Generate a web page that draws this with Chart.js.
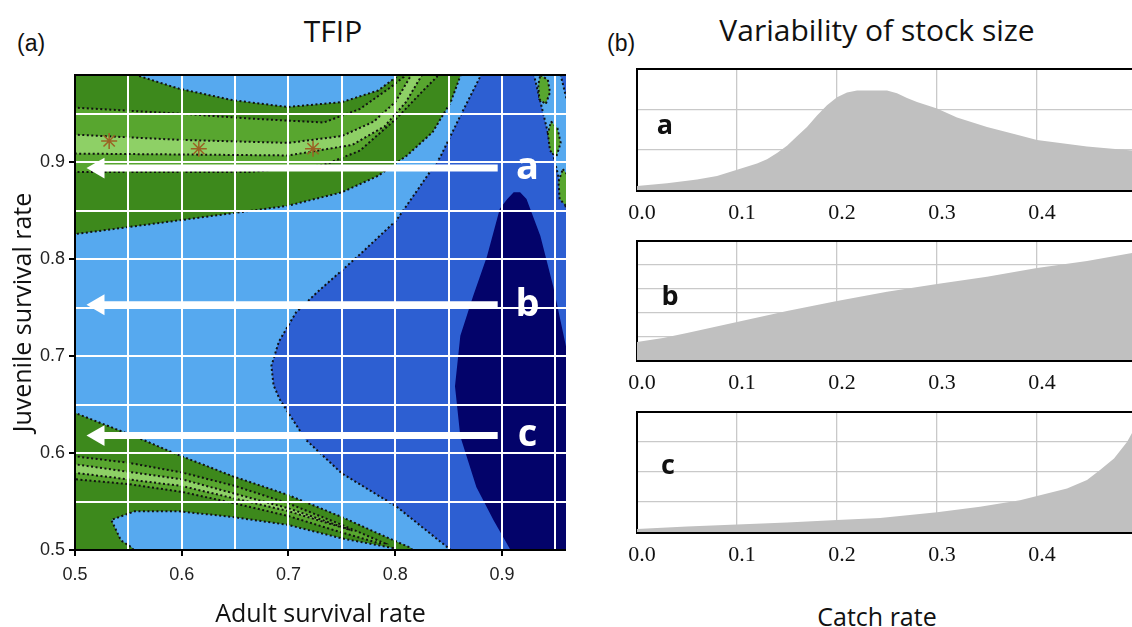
<!DOCTYPE html>
<html>
<head>
<meta charset="utf-8">
<script src="https://cdn.jsdelivr.net/npm/chart.js@4.4.1/dist/chart.umd.min.js"></script>
<style>
  body { margin: 0; width: 1132px; height: 627px; position: relative; overflow: hidden; background: #fff; }
  canvas { position: absolute; }
  .t { position: absolute; white-space: nowrap; color: #111; line-height: 1; }
  .c { transform: translateX(-50%); }
</style>
</head>
<body>
<div class="t" style="left:17px;top:30px;font:23px 'Liberation Sans';">(a)</div>
<div class="t c" style="left:333px;top:10px;font:30px 'Open Sans';">TFIP</div>
<div class="t" style="left:607px;top:30px;font:23px 'Liberation Sans';">(b)</div>
<div class="t c" style="left:877px;top:9px;font:30px 'Open Sans';">Variability of stock size</div>
<div class="t c" style="left:877px;top:599px;font:25px 'Open Sans';">Catch rate</div>

<canvas id="tfip" width="566" height="627" style="left:0;top:0"></canvas>
<canvas id="panelA" width="532" height="170" style="left:600px;top:60px"></canvas>
<canvas id="panelB" width="532" height="170" style="left:600px;top:232px"></canvas>
<canvas id="panelC" width="532" height="170" style="left:600px;top:403px"></canvas>

<script>
/* ── (a) TFIP contour map: outlines as [adult, juvenile] pairs ── */
const greenUpper = [[0.49,1.0],[0.56,1.0],[0.56,0.989],[0.597,0.976],[0.648,0.964],[0.699,0.957],[0.75,0.962],[0.784,0.974],[0.801,0.988],[0.803,1.0],[0.862,1.0],[0.861,0.989],[0.852,0.962],[0.835,0.931],[0.811,0.907],[0.784,0.886],[0.75,0.869],[0.699,0.855],[0.597,0.84],[0.501,0.826],[0.49,0.825]];
const midUpper = [[0.49,0.957],[0.6,0.95],[0.665,0.945],[0.733,0.941],[0.767,0.955],[0.794,0.976],[0.808,0.988],[0.81,1.0],[0.842,1.0],[0.839,0.988],[0.828,0.976],[0.801,0.945],[0.767,0.912],[0.733,0.897],[0.665,0.89],[0.6,0.89],[0.49,0.89]];
const lightUpper = [[0.49,0.929],[0.6,0.923],[0.7,0.92],[0.75,0.927],[0.78,0.942],[0.8,0.962],[0.815,0.99],[0.817,1.0],[0.828,1.0],[0.825,0.99],[0.81,0.962],[0.79,0.937],[0.76,0.918],[0.7,0.907],[0.6,0.908],[0.49,0.909]];
const greenLower = [[0.49,0.642],[0.501,0.641],[0.563,0.614],[0.597,0.598],[0.648,0.576],[0.699,0.557],[0.75,0.534],[0.784,0.517],[0.815,0.502],[0.82,0.49],[0.796,0.49],[0.798,0.502],[0.75,0.512],[0.699,0.526],[0.648,0.534],[0.597,0.54],[0.556,0.54],[0.534,0.531],[0.543,0.51],[0.554,0.502],[0.557,0.49],[0.49,0.49]];
const midLower = [[0.49,0.598],[0.55,0.59],[0.6,0.58],[0.65,0.566],[0.7,0.548],[0.75,0.526],[0.79,0.507],[0.785,0.507],[0.75,0.518],[0.7,0.535],[0.65,0.548],[0.6,0.56],[0.55,0.568],[0.49,0.574]];
const lightLower = [[0.49,0.59],[0.6,0.573],[0.7,0.543],[0.76,0.52],[0.7,0.54],[0.6,0.566],[0.49,0.581]];
const medBlue = [[0.885,1.0],[0.862,0.95],[0.842,0.905],[0.82,0.87],[0.801,0.84],[0.767,0.805],[0.726,0.765],[0.707,0.745],[0.691,0.715],[0.684,0.69],[0.686,0.67],[0.692,0.655],[0.716,0.614],[0.75,0.579],[0.801,0.545],[0.852,0.5],[0.861,0.49],[0.98,0.49],[0.98,1.0]];
const navyCore = [[0.905,0.862],[0.898,0.852],[0.886,0.803],[0.873,0.762],[0.861,0.721],[0.856,0.669],[0.861,0.617],[0.876,0.565],[0.892,0.531],[0.908,0.5],[0.913,0.49],[0.98,0.49],[0.98,0.70],[0.96,0.71],[0.948,0.772],[0.936,0.824],[0.923,0.862],[0.917,0.869],[0.911,0.869]];
const edgeStrip = [[0.928,1.0],[0.93,0.99],[0.965,0.83],[0.98,0.82],[0.98,0.93],[0.965,0.945],[0.955,0.99],[0.953,1.0]];
const blobs = [
  [[0.936,0.99],[0.943,0.985],[0.945,0.972],[0.941,0.96],[0.935,0.965],[0.934,0.98]],
  [[0.946,0.942],[0.952,0.935],[0.955,0.92],[0.951,0.906],[0.945,0.912],[0.943,0.93]],
  [[0.957,0.893],[0.963,0.885],[0.965,0.87],[0.96,0.855],[0.954,0.862],[0.953,0.88]]
];
const speckX = [0.532, 0.616, 0.723];
const speckY = [0.922, 0.914, 0.914];

// harvest paths a, b, c
const arrowNames = ['a', 'b', 'c'];
const arrowY = [0.894, 0.753, 0.618];
const arrowTail = 0.896;
const arrowHead = 0.522;
const arrowLabelX = 0.924;

/* ── (b) variability of stock size vs catch rate ── */
const rateA  = [0, 0.03, 0.06, 0.08, 0.10, 0.12, 0.13, 0.14, 0.15, 0.16, 0.17, 0.18, 0.19, 0.20, 0.21, 0.22, 0.25, 0.26, 0.27, 0.28, 0.30, 0.32, 0.35, 0.38, 0.40, 0.45, 0.495];
const stockA = [0.10, 0.17, 0.26, 0.35, 0.50, 0.66, 0.76, 0.92, 1.10, 1.33, 1.56, 1.85, 2.10, 2.30, 2.42, 2.47, 2.47, 2.40, 2.28, 2.18, 2.02, 1.80, 1.56, 1.37, 1.24, 1.08, 0.98];
const rateB  = [0, 0.026, 0.05, 0.10, 0.15, 0.20, 0.25, 0.30, 0.35, 0.40, 0.45, 0.495];
const stockB = [0.76, 0.92, 1.13, 1.60, 2.06, 2.48, 2.87, 3.19, 3.50, 3.87, 4.16, 4.50];
const rateC  = [0, 0.05, 0.10, 0.15, 0.20, 0.243, 0.30, 0.343, 0.383, 0.40, 0.43, 0.45, 0.463, 0.477, 0.49, 0.495];
const stockC = [0.10, 0.18, 0.25, 0.32, 0.40, 0.47, 0.66, 0.84, 1.06, 1.20, 1.45, 1.73, 2.07, 2.45, 3.00, 3.30];
const catchTicks = ['0.0', '0.1', '0.2', '0.3', '0.4'];

const COL = {
  sky: '#56a9ef', mid: '#2d5fd2', navy: '#03036a',
  g1: '#3d891c', g2: '#58a62f', g3: '#8ed066', speck: '#9a6224', hist: '#c0c0c0'
};

const isTenth = v => Math.abs(v * 10 - Math.round(v * 10)) < 1e-6;

function region(pts, color, order, dotted) {
  const data = pts.map(([x, y]) => ({ x, y }));
  data.push({ x: pts[0][0], y: pts[0][1] });
  return {
    data, showLine: true, fill: 'shape', backgroundColor: color,
    borderColor: dotted ? '#111' : 'transparent', borderWidth: dotted ? 2 : 0,
    borderDash: [2, 2.5], pointRadius: 0, tension: 0, order
  };
}

function topLine(width) {
  return {
    id: 'topLine',
    afterDraw(chart) {
      const { ctx, chartArea: a } = chart;
      ctx.save();
      ctx.strokeStyle = '#000';
      ctx.lineWidth = width;
      ctx.beginPath();
      ctx.moveTo(a.left - 1, a.top);
      ctx.lineTo(a.right + 1, a.top);
      ctx.stroke();
      ctx.restore();
    }
  };
}

function letters(names, xs, ys, font, color) {
  return {
    id: 'letters',
    afterDraw(chart) {
      const { ctx, scales: { x, y } } = chart;
      ctx.save();
      ctx.font = font;
      ctx.fillStyle = color;
      ctx.textAlign = 'center';
      ctx.textBaseline = 'middle';
      names.forEach((n, i) => ctx.fillText(n, x.getPixelForValue(xs[i]), y.getPixelForValue(ys[i])));
      ctx.restore();
    }
  };
}

const skyBg = {
  id: 'skyBg',
  beforeDatasetsDraw(chart) {
    const { ctx, chartArea: a } = chart;
    ctx.save();
    ctx.fillStyle = COL.sky;
    ctx.fillRect(a.left, a.top, a.right - a.left, a.bottom - a.top);
    ctx.restore();
  }
};

// 等高線圖：order 越小越上層
const tfipSets = [
  region(medBlue, COL.mid, 8, true),
  region(navyCore, COL.navy, 7, false),
  region(edgeStrip, COL.sky, 6, true),
  ...blobs.map(b => region(b, COL.g2, 5, true)),
  region(greenUpper, COL.g1, 4, true),
  region(greenLower, COL.g1, 4, true),
  region(midUpper, COL.g2, 3, true),
  region(midLower, COL.g2, 3, true),
  region(lightUpper, COL.g3, 2, true),
  region(lightLower, COL.g3, 2, true),
  {
    data: speckX.map((x, i) => ({ x, y: speckY[i] })), showLine: false,
    pointStyle: 'star', pointRadius: 8, pointBorderColor: COL.speck, pointBorderWidth: 1.5, order: 1
  },
  ...arrowY.map(yv => ({
    data: [{ x: arrowTail, y: yv }, { x: arrowHead, y: yv }],
    showLine: true, fill: false, borderColor: '#fff', borderWidth: 7, borderCapStyle: 'butt',
    pointRadius: [0, 12], pointStyle: 'triangle', pointRotation: 270,
    pointBackgroundColor: '#fff', pointBorderColor: '#fff', pointBorderWidth: 0, order: 0
  }))
];

const tickFont = { family: 'Liberation Sans', size: 18 };
const titleFont = { family: 'Open Sans', size: 25 };

new Chart(document.getElementById('tfip'), {
  type: 'scatter',
  data: { datasets: tfipSets },
  options: {
    responsive: false, animation: false, devicePixelRatio: 1, events: [],
    layout: { autoPadding: false, padding: { top: 75, left: 0, right: 0, bottom: 0 } },
    plugins: { legend: { display: false }, tooltip: { enabled: false }, filler: { drawTime: 'beforeDatasetDraw' } },
    scales: {
      x: {
        type: 'linear', min: 0.5, max: 0.96,
        afterFit: s => { s.height = 77; s.paddingLeft = 0; s.paddingRight = 0; },
        ticks: {
          stepSize: 0.05, includeBounds: false, autoSkip: false, maxRotation: 0, padding: 8,
          font: tickFont, color: '#222', callback: v => isTenth(v) ? v.toFixed(1) : ''
        },
        grid: {
          z: 1, color: '#fff', lineWidth: 2, tickLength: 6, tickWidth: 2,
          tickColor: c => (c.tick && isTenth(c.tick.value)) ? '#000' : 'rgba(0,0,0,0)'
        },
        border: { z: 2, color: '#000', width: 2 },
        title: { display: true, text: 'Adult survival rate', font: titleFont, color: '#111', padding: { top: 0, bottom: -3 } }
      },
      y: {
        type: 'linear', min: 0.5, max: 0.99,
        afterFit: s => { s.width = 75; s.paddingTop = 0; s.paddingBottom = 0; },
        ticks: {
          stepSize: 0.05, includeBounds: false, autoSkip: false, padding: 4,
          font: tickFont, color: '#222', callback: v => isTenth(v) ? v.toFixed(1) : ''
        },
        grid: {
          z: 1, color: '#fff', lineWidth: 2, tickLength: 6, tickWidth: 2,
          tickColor: c => (c.tick && isTenth(c.tick.value)) ? '#000' : 'rgba(0,0,0,0)'
        },
        border: { z: 2, color: '#000', width: 2 },
        title: { display: true, text: 'Juvenile survival rate', font: titleFont, color: '#111', padding: { top: 9, bottom: 0 } }
      }
    }
  },
  plugins: [skyBg, topLine(2), letters(arrowNames, arrowNames.map(() => arrowLabelX), arrowY, 'bold 38px "Open Sans"', '#fff')]
});

/* ── (b) three stacked histograms ── */
function stockPanel(id, rates, stock, yMax, axisH, name, lx, ly) {
  return new Chart(document.getElementById(id), {
    type: 'scatter',
    data: {
      datasets: [{
        data: rates.map((r, i) => ({ x: r, y: stock[i] })),
        showLine: true, fill: 'origin', backgroundColor: COL.hist,
        borderColor: 'transparent', borderWidth: 0, pointRadius: 0, tension: 0
      }]
    },
    options: {
      responsive: false, animation: false, devicePixelRatio: 1, events: [],
      layout: { autoPadding: false, padding: { top: 9, left: 0, right: 0, bottom: 0 } },
      plugins: { legend: { display: false }, tooltip: { enabled: false } },
      scales: {
        x: {
          type: 'linear', min: 0, max: 0.495,
          afterFit: s => { s.height = axisH; s.paddingLeft = 0; s.paddingRight = 0; },
          ticks: {
            stepSize: 0.1, includeBounds: false, autoSkip: false, maxRotation: 0, padding: 10, labelOffset: 5,
            font: { family: 'Liberation Serif', size: 22 }, color: '#111',
            callback: (v, i) => catchTicks[i]
          },
          grid: { drawTicks: false, color: c => (c.tick && c.tick.value > 0.01) ? '#c9c9c9' : 'rgba(0,0,0,0)', lineWidth: 1.3 },
          border: { color: '#000', width: 3 }
        },
        y: {
          type: 'linear', min: 0, max: yMax,
          afterFit: s => { s.width = 37; },
          ticks: { stepSize: 1, display: false },
          grid: { drawTicks: false, color: '#c9c9c9', lineWidth: 1.3 },
          border: { color: '#000', width: 2 }
        }
      }
    },
    plugins: [topLine(2), letters([name], [lx], [ly], 'bold 27px "Open Sans"', '#111')]
  });
}

stockPanel('panelA', rateA, stockA, 3, 40, 'a', 0.028, 1.59);
stockPanel('panelB', rateB, stockB, 5, 42, 'b', 0.033, 2.65);
stockPanel('panelC', rateC, stockC, 4, 41, 'c', 0.031, 2.2);
</script>
</body>
</html>
